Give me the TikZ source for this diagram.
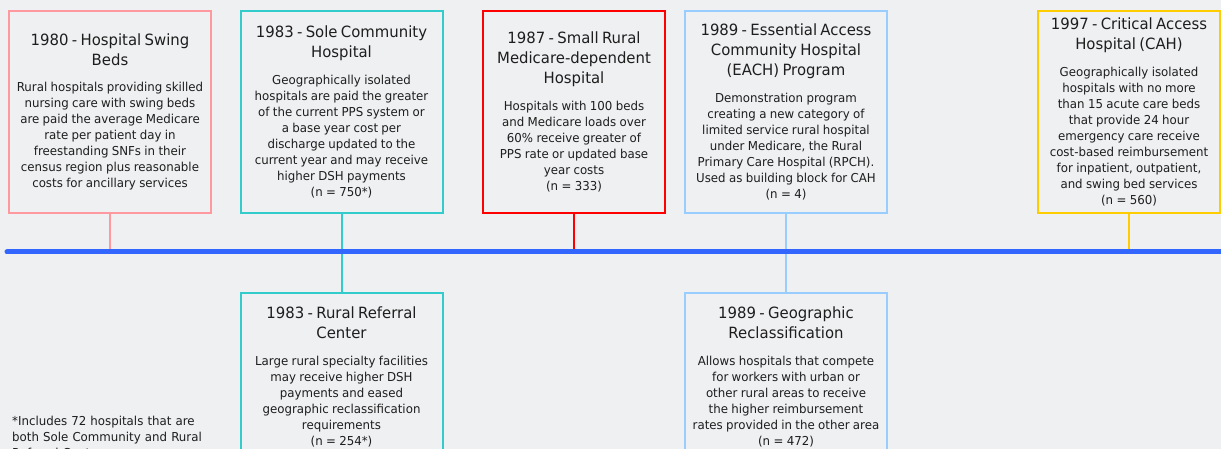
\documentclass[tikz,border=0pt]{standalone}
\usepackage{fontspec}
\setmainfont{DejaVu Sans}[FakeStretch=0.96]
\definecolor{bgc}{RGB}{239,240,242}
\definecolor{pinkc}{RGB}{255,153,160}
\definecolor{tealc}{RGB}{51,204,204}
\definecolor{redc}{RGB}{255,0,0}
\definecolor{lbluec}{RGB}{153,204,255}
\definecolor{goldc}{RGB}{255,204,0}
\definecolor{linec}{RGB}{51,102,255}
\definecolor{textc}{RGB}{30,30,30}
\newcommand{\ttl}{\fontsize{15.5pt}{20pt}\selectfont}
\newcommand{\bdy}{\par\vspace{10.5pt}\fontsize{12.3pt}{16pt}\selectfont}
\begin{document}
\begin{tikzpicture}[x=1pt,y=-1pt,
  evbox/.style={draw=#1, line width=2pt, inner sep=0pt, text=textc, align=center},
  wide/.style={minimum width=202pt, text width=200pt},
  narrow/.style={minimum width=182pt, text width=180pt},
  stem/.style={draw=#1, line width=2pt},
  foot/.style={text=textc, align=left, text width=220pt, inner sep=0pt, anchor=north west, font=\fontsize{12.3pt}{16pt}\selectfont}]
\fill[bgc] (0,0) rectangle (1221,449);
\clip (0,0) rectangle (1221,449);

\node[evbox=pinkc, wide, minimum height=202pt] (b1) at (110,112)
 {\ttl 1980 - Hospital Swing\\Beds\bdy Rural hospitals providing skilled\\nursing care with swing beds\\are paid the average Medicare\\rate per patient day in\\freestanding SNFs in their\\census region plus reasonable\\costs for ancillary services\par};
\node[evbox=tealc, wide, minimum height=202pt] (b2) at (341.5,112)
 {\ttl 1983 - Sole Community\\Hospital\bdy Geographically isolated\\hospitals are paid the greater\\of the current PPS system or\\a base year cost per\\discharge updated to the\\current year and may receive\\higher DSH payments\\(n = 750*)\par};
\node[evbox=redc, narrow, minimum height=202pt] (b3) at (574,112)
 {\ttl 1987 - Small Rural\\Medicare-dependent\\Hospital\bdy Hospitals with 100 beds\\and Medicare loads over\\60\% receive greater of\\PPS rate or updated base\\year costs\\(n = 333)\par};
\node[evbox=lbluec, wide, minimum height=202pt] (b4) at (786,112)
 {\ttl 1989 - Essential Access\\Community Hospital\\(EACH) Program\bdy Demonstration program\\creating a new category of\\limited service rural hospital\\under Medicare, the Rural\\Primary Care Hospital (RPCH).\\Used as building block for CAH\\(n = 4)\par};
\node[evbox=goldc, narrow, minimum height=202pt] (b5) at (1129,112)
 {\ttl 1997 - Critical Access\\Hospital (CAH)\bdy Geographically isolated\\hospitals with no more\\than 15 acute care beds\\that provide 24 hour\\emergency care receive\\cost-based reimbursement\\for inpatient, outpatient,\\and swing bed services\\(n = 560)\par};
\node[evbox=tealc, wide, minimum height=168pt] (b6) at (341.5,377)
 {\ttl 1983 - Rural Referral\\Center\bdy Large rural specialty facilities\\may receive higher DSH\\payments and eased\\geographic reclassification\\requirements\\(n = 254*)\par};
\node[evbox=lbluec, wide, minimum height=168pt] (b7) at (786,377)
 {\ttl 1989 - Geographic\\Reclassification\bdy Allows hospitals that compete\\for workers with urban or\\other rural areas to receive\\the higher reimbursement\\rates provided in the other area\\(n = 472)\par};

\node[foot] (fn) at (12,416) {*Includes 72 hospitals that are\\both Sole Community and Rural\\Referral Center\par};

\coordinate (ls) at (7,252);
\coordinate (le) at (1221,252);
\coordinate (p1) at (b1.south |- ls);
\coordinate (p3) at (b3.south |- ls);
\coordinate (p5) at (b5.south |- ls);
\draw[stem=pinkc] (b1.south) -- (p1);
\draw[stem=tealc] (b2.south) -- (b6.north);
\draw[stem=redc] (b3.south) -- (p3);
\draw[stem=lbluec] (b4.south) -- (b7.north);
\draw[stem=goldc] (b5.south) -- (p5);
\draw[linec, line width=5pt, line cap=round] (ls) -- (le);
\end{tikzpicture}
\end{document}
